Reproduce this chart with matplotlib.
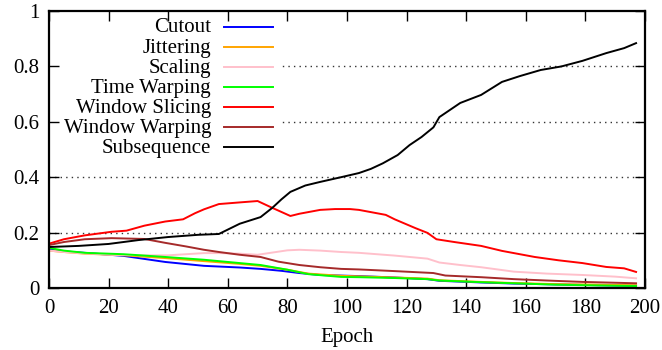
import matplotlib
matplotlib.use("Agg")
import matplotlib.pyplot as plt
from matplotlib.ticker import FormatStrFormatter, MultipleLocator
from matplotlib.patches import Rectangle

plt.rcParams['font.family'] = ['Liberation Serif', 'DejaVu Serif']

labels = ["Cutout", "Jittering", "Scaling", "Time Warping",
          "Window Slicing", "Window Warping", "Subsequence"]
colors = ["#0000ff", "#ffa500", "#ffc0cb", "#00ff00",
          "#ff0000", "#a52a2a", "#000000"]

cutout_x = [0, 5, 12, 25, 39, 52, 64, 71, 78, 84, 91, 104, 116, 127, 131, 145, 156, 170, 185, 197]
cutout_y = [0.14, 0.132, 0.127, 0.116, 0.094, 0.08, 0.074, 0.069, 0.062, 0.054, 0.047, 0.043,
            0.038, 0.032, 0.026, 0.02, 0.016, 0.013, 0.01, 0.008]

jitter_x = [0, 5, 12, 25, 39, 52, 64, 71, 80, 87, 98, 104, 116, 127, 131, 145, 156, 170, 185, 197]
jitter_y = [0.135, 0.13, 0.124, 0.118, 0.108, 0.097, 0.087, 0.08, 0.066, 0.052, 0.044, 0.042,
            0.038, 0.034, 0.028, 0.022, 0.018, 0.014, 0.012, 0.01]

scaling_x = [0, 5, 12, 21, 32, 40, 46, 52, 57, 64, 70, 75, 80, 84, 91, 98, 104, 116, 127, 131,
             138, 145, 156, 167, 179, 190, 197]
scaling_y = [0.135, 0.13, 0.125, 0.12, 0.118, 0.118, 0.122, 0.126, 0.126, 0.124, 0.12, 0.128,
             0.136, 0.138, 0.135, 0.13, 0.127, 0.117, 0.106, 0.092, 0.083, 0.075, 0.059, 0.052,
             0.047, 0.041, 0.035]

timewarp_x = [0, 5, 12, 25, 39, 52, 64, 71, 80, 87, 98, 104, 116, 127, 131, 145, 156, 170, 185, 197]
timewarp_y = [0.145, 0.135, 0.127, 0.122, 0.112, 0.102, 0.09, 0.083, 0.066, 0.05, 0.04, 0.039,
              0.036, 0.032, 0.027, 0.021, 0.017, 0.012, 0.009, 0.007]

wslice_x = [0, 5, 12, 21, 26, 32, 39, 45, 49, 52, 57, 64, 70, 75, 81, 84, 91, 96, 101, 104,
            113, 116, 123, 127, 130, 136, 145, 152, 156, 163, 171, 179, 187, 193, 197]
wslice_y = [0.16, 0.176, 0.19, 0.203, 0.207, 0.225, 0.24, 0.248, 0.27, 0.284, 0.303, 0.309,
            0.314, 0.289, 0.26, 0.268, 0.282, 0.285, 0.285, 0.282, 0.264, 0.248, 0.216, 0.199,
            0.176, 0.166, 0.152, 0.134, 0.126, 0.112, 0.1, 0.09, 0.076, 0.071, 0.058]

wwarp_x = [0, 5, 12, 21, 32, 39, 46, 52, 57, 64, 71, 77, 84, 91, 98, 104, 116, 129, 133, 145,
           156, 167, 179, 197]
wwarp_y = [0.155, 0.166, 0.176, 0.18, 0.177, 0.163, 0.15, 0.138, 0.13, 0.12, 0.112, 0.095,
           0.083, 0.075, 0.069, 0.067, 0.061, 0.054, 0.045, 0.039, 0.032, 0.027, 0.022, 0.017]

subseq_x = [0, 10, 20, 30, 40, 50, 57, 64, 71, 75, 78, 81, 86, 91, 98, 104, 108, 112, 117, 121,
            125, 129, 131, 138, 145, 152, 158, 165, 172, 179, 187, 193, 197]
subseq_y = [0.148, 0.152, 0.159, 0.173, 0.184, 0.192, 0.195, 0.232, 0.256, 0.29, 0.32, 0.347,
            0.37, 0.383, 0.4, 0.415, 0.43, 0.45, 0.48, 0.516, 0.545, 0.58, 0.617, 0.668, 0.697,
            0.744, 0.765, 0.787, 0.8, 0.82, 0.848, 0.866, 0.884]

series = [(cutout_x, cutout_y), (jitter_x, jitter_y), (scaling_x, scaling_y),
          (timewarp_x, timewarp_y), (wslice_x, wslice_y), (wwarp_x, wwarp_y),
          (subseq_x, subseq_y)]

W, H = 662, 350
AX_L, AX_R, AX_T, AX_B = 49, 645, 11, 288
fig = plt.figure(figsize=(W / 100, H / 100), dpi=100)
ax = fig.add_axes([AX_L / W, (H - AX_B) / H, (AX_R - AX_L) / W, (AX_B - AX_T) / H])

def ax_x(px):
    return (px - AX_L) / (AX_R - AX_L)

def ax_y(py):
    return (AX_B - py) / (AX_B - AX_T)

for (xs, ys), lab, col in zip(series, labels, colors):
    ax.plot(xs, ys, color=col, lw=1.4, label=lab, zorder=3)

ax.set_xlim(0, 200)
ax.set_ylim(0, 1)
ax.xaxis.set_major_locator(MultipleLocator(20))
ax.yaxis.set_major_locator(MultipleLocator(0.2))
ax.yaxis.set_major_formatter(FormatStrFormatter('%g'))
ax.tick_params(direction='in', length=7, width=1, top=True, right=True,
               labelsize=15)
ax.tick_params(axis='x', pad=8)
ax.tick_params(axis='y', pad=7)
for s in ax.spines.values():
    s.set_linewidth(1.6)
    s.set_zorder(5)

for yv in [0.2, 0.4, 0.6, 0.8]:
    ax.axhline(yv, color='#333333', lw=1, ls=(0, (1, 3)), zorder=0.5)

ax.set_xlabel("Epoch", fontsize=15, labelpad=7)

# legend (key) with white background, right-aligned labels
ax.add_patch(Rectangle((0, ax_y(158)), ax_x(282), 1 - ax_y(158),
                       transform=ax.transAxes, facecolor='white',
                       edgecolor='none', zorder=1))
for i, (lab, col) in enumerate(zip(labels, colors)):
    py = 27 + 20 * i
    ax.text(ax_x(211), ax_y(py + 1), lab, transform=ax.transAxes, ha='right',
            va='center', fontsize=15, zorder=6)
    ax.plot([ax_x(224), ax_x(273)], [ax_y(py), ax_y(py)], transform=ax.transAxes,
            color=col, lw=1.4, zorder=6)

fig.savefig("out.png", dpi=100)
